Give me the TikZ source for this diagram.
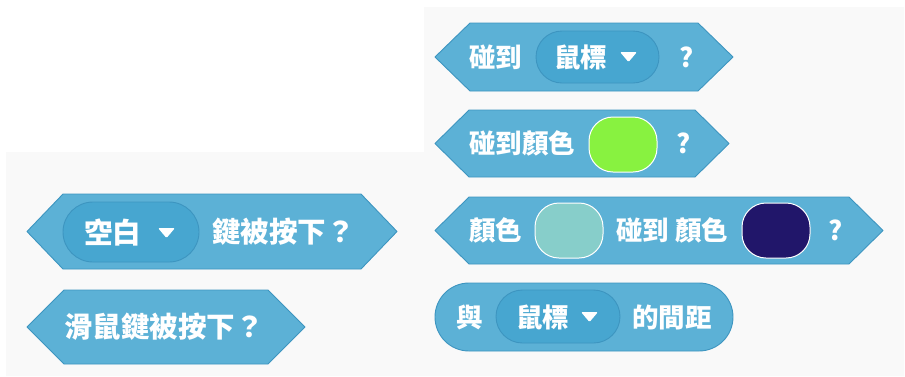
\documentclass[tikz,border=0pt]{standalone}
\usepackage{fontspec}
\newfontfamily\cjk{Noto Sans CJK TC}
\definecolor{sensing}{HTML}{5CB1D6}
\definecolor{sensingdark}{HTML}{3D95C0}
\definecolor{sensingdrop}{HTML}{47A6D0}
\definecolor{panel}{HTML}{F9F9F9}
\definecolor{pickgreen}{HTML}{88F240}
\definecolor{pickteal}{HTML}{87CECA}
\definecolor{picknavy}{HTML}{21166A}

\begin{document}
\begin{tikzpicture}
[x=1pt,y=-1pt,%
  boolblock/.style={fill=sensing,draw=sensingdark,line width=0.9pt,line join=round},%
  dropbox/.style={fill=sensingdrop,draw=sensingdark,line width=0.9pt},%
  picker/.style={draw=white,line width=1pt,rounded corners=24},%
  droparrow/.style={fill=white,rounded corners=1.2},%
  lbl/.style={text=white,inner sep=0pt,anchor=west,
    font=\cjk\bfseries\fontsize{26.5}{26.5}\selectfont},%
  biglbl/.style={lbl,font=\cjk\bfseries\fontsize{28.5}{28.5}\selectfont}]
\useasboundingbox (0,0) rectangle (905,376);
\fill[white] (0,0) rectangle (905,376);
\fill[panel] (6,152) -- (424,152) -- (424,7) -- (904,7) -- (904,376) -- (6,376) -- cycle;
%%
\foreach \xl/\xr/\yt/\yb/\ind in {435/733/23/91/35, 435/729/110/177/34,
  435/883/197/264/34, 27/397/194/269/36, 27/305/290/364/37}
{
  \draw[boolblock] (\xl,{(\yt+\yb)/2}) -- (\xl+\ind,\yt) -- (\xr-\ind,\yt)
    -- (\xr,{(\yt+\yb)/2}) -- (\xr-\ind,\yb) -- (\xl+\ind,\yb) -- cycle;
}
\draw[boolblock,rounded corners=34] (435,283) rectangle (733,351);
%%
\draw[dropbox,rounded corners=26] (536,31) rectangle (659,83);
\node[lbl] (touch) at (469,57) {碰到};
\node[lbl] (mouse) at (554,57) {鼠標};
\node[lbl] (q1) at (679,57) {?};
\coordinate (arr1) at (628.5,57);
%%
\node[lbl] (touchcolor) at (469,143.5) {碰到顏色};
\draw[picker,fill=pickgreen] (589,117) rectangle (657,172);
\node[lbl] (q2) at (676,143.5) {?};
%%
\node[lbl] (color) at (469,230.5) {顏色};
\draw[picker,fill=pickteal] (535,203) rectangle (603,258);
\node[lbl] (touchcolor2) at (616,230.5) {碰到 顏色};
\draw[picker,fill=picknavy] (742,203) rectangle (810,258);
\node[lbl] (q3) at (828,230.5) {?};
%%
\node[lbl] (with) at (456,317) {與};
\draw[dropbox,rounded corners=26.5] (496,290) rectangle (620,343);
\node[lbl] (mouse2) at (516,317) {鼠標};
\node[lbl] (distance) at (632,317) {的間距};
\coordinate (arr2) at (589.5,317);
%%
\draw[dropbox,rounded corners=30] (63,202) rectangle (199,262);
\node[biglbl] (space) at (84,232) {空白};
\node[biglbl] (keypressed) at (212,232) {鍵被按下？};
\coordinate (arr3) at (166.5,233);
%%
\node[biglbl] (mousedown) at (64,327) {滑鼠鍵被按下？};
%%
\foreach \arr in {arr1, arr2, arr3}
{
  \fill[droparrow] (\arr) ++(-8.5,-5) -- ++(17,0) -- ++(-8.5,10) -- cycle;
};
\end{tikzpicture}
\end{document}
